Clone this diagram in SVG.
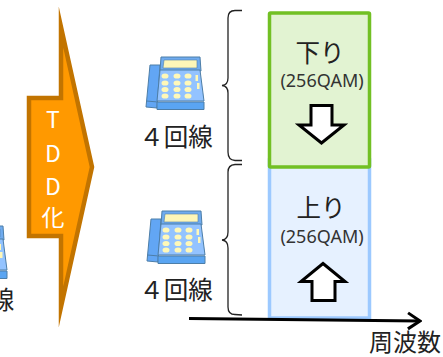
<svg xmlns="http://www.w3.org/2000/svg" width="443" height="357" viewBox="0 0 443 357">
<style>
text{font-family:"Noto Sans CJK JP","Noto Sans",sans-serif;fill:#222;text-anchor:middle}
.lbl{font-size:24.500px}
.sub{font-size:18px;font-family:"Noto Sans",sans-serif;fill:#333}
.w{font-size:23px;fill:#fff}
.brace{fill:none;stroke:#222;stroke-width:1.300}
.block{fill:#fff;stroke:#000;stroke-width:3}
.ph{stroke:#4d7ea8;stroke-width:1;stroke-linejoin:round}
</style>
<defs>
<g id="phone">
<path class="ph" d="M150 65H160L157 108L146 107Z" fill="#62a6f4"/>
<path class="ph" d="M146.500 101L158 102" fill="none"/>
<path class="ph" d="M161 57H200L201 71H160Z" fill="#6fabef"/>
<path d="M164 60H197V68H163Z" fill="#fdf6b8" stroke="#4d7ea8" stroke-width=".6"/>
<path class="ph" d="M160 70H200L204 101H157Z" fill="#93c3ff"/>
<path class="ph" d="M157 102H204V109.500H157Z" fill="#5aa5f2"/>
<g fill="#fff8b8">
<ellipse cx="165" cy="76" rx="3.500" ry="2.600"/><ellipse cx="177" cy="76" rx="3.500" ry="2.600"/><ellipse cx="188" cy="76" rx="3.500" ry="2.600"/>
<ellipse cx="165" cy="83" rx="3.500" ry="2.600"/><ellipse cx="177" cy="83" rx="3.500" ry="2.600"/><ellipse cx="188" cy="83" rx="3.500" ry="2.600"/>
<ellipse cx="165" cy="89.500" rx="3.500" ry="2.600"/><ellipse cx="177" cy="89.500" rx="3.500" ry="2.600"/><ellipse cx="188" cy="89.500" rx="3.500" ry="2.600"/>
<ellipse cx="165" cy="96" rx="3.500" ry="2.600"/><ellipse cx="177" cy="96" rx="3.500" ry="2.600"/><ellipse cx="188" cy="96" rx="3.500" ry="2.600"/>
<rect x="195.500" y="75" width="2.500" height="6"/><rect x="197" y="83" width="2.500" height="6"/>
</g>
</g>
<marker id="chev" markerUnits="userSpaceOnUse" markerWidth="16" markerHeight="22" refX="14" refY="11" orient="auto">
<path d="M2 3L14 11L2 19" fill="none" stroke="#000" stroke-width="3"/>
</marker>
</defs>
<g id="uplink-band">
<rect x="269.500" y="160" width="100" height="158" fill="#e6f1ff" stroke="#9cc9ff" stroke-width="3.500"/>
<text class="lbl" x="321" y="217">上り</text>
<text class="sub" x="322" y="243">(256QAM)</text>
<path class="block" d="M323 263.500L345 281.500H335V300.500H312V281.500H301Z"/>
</g>
<g id="downlink-band">
<rect x="269.500" y="13" width="100" height="154" rx="1" fill="#e2f3d2" stroke="#72c024" stroke-width="3.500"/>
<text class="lbl" x="320" y="62">下り</text>
<text class="sub" x="322" y="87">(256QAM)</text>
<path class="block" d="M311 105.500H332V125H344L321.500 143L299 125H311Z"/>
</g>
<g id="tdd-arrow">
<path d="M29 98H61V27L92 167L61 307V236H29Z" fill="#ff9900" stroke="#c27400" stroke-width="4.500" stroke-miterlimit="12"/>
<text class="w" x="53" y="128">T</text>
<text class="w" x="53" y="162">D</text>
<text class="w" x="53" y="195">D</text>
<text class="w" x="53" y="226">化</text>
</g>
<g id="phone-left">
<use href="#phone" x="-197" y="169"/>
<text class="lbl" x="2" y="309">線</text>
</g>
<g id="phone-top">
<use href="#phone"/>
<text class="lbl" x="176" y="146">４回線</text>
</g>
<g id="phone-bottom">
<use href="#phone" x="1" y="154"/>
<text class="lbl" x="176" y="299">４回線</text>
</g>
<g id="connectors">
<path class="brace" d="M242 10.500H235Q228 10.500 228 18V78Q228 85 222 85.500Q228 86 228 93V152Q228 160 235 160.500H242"/>
<path class="brace" d="M242 164.500H235Q228 165 228 172V232Q228 239.500 222 240Q228 240.500 228 248V307Q228 314.500 235 314.500L242 315"/>
<path d="M189 318.500L420 321" fill="none" stroke="#000" stroke-width="3" marker-end="url(#chev)"/>
</g>
<g id="axis-label"><text x="405" y="351" style="font-size:24px">周波数</text></g>
</svg>
